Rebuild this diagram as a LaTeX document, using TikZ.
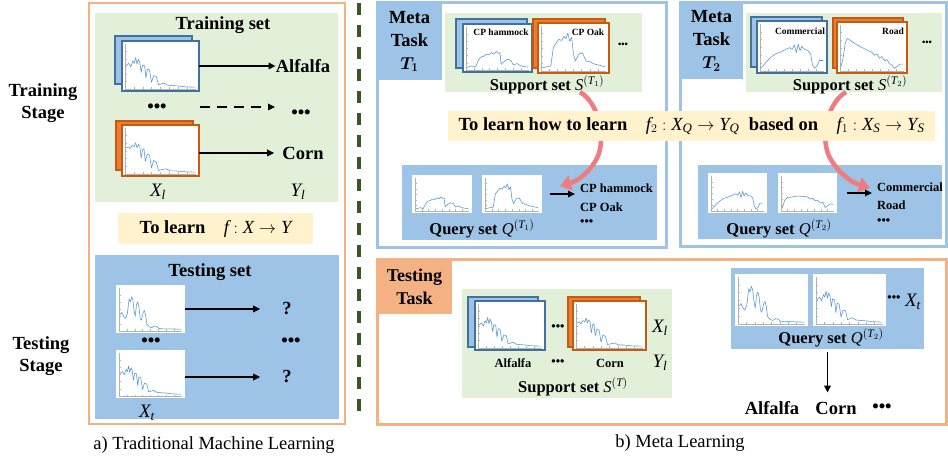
\documentclass[tikz,border=0pt]{standalone}
\usepackage{fontspec}
\setmainfont{Liberation Serif}
\usepackage{bm}
\DeclareSymbolFont{letters}{TU}{\rmdefault}{m}{it}
\SetSymbolFont{letters}{bold}{TU}{\rmdefault}{b}{it}
\usetikzlibrary{arrows.meta,fit}

\definecolor{gfill}{HTML}{E2F0D9}
\definecolor{yfill}{HTML}{FFF2CC}
\definecolor{bfill}{HTML}{9DC3E6}
\definecolor{oline}{HTML}{F4B183}
\definecolor{dblue}{HTML}{41719C}
\definecolor{dorange}{HTML}{C55A11}
\definecolor{morange}{HTML}{ED7D31}
\definecolor{pinkarr}{HTML}{F07C82}
\definecolor{dgreen}{HTML}{385723}
\definecolor{specblue}{HTML}{5B9BD5}

\tikzset{
  lbl/.style={font=\fontsize{18.5}{22}\selectfont\bfseries, inner sep=0pt, align=center},
  setlbl/.style={font=\fontsize{16.5}{19}\selectfont\bfseries, inner sep=0pt},
  smlbl/.style={font=\fontsize{12.5}{15}\selectfont\bfseries, inner sep=0pt},
  tinylbl/.style={font=\fontsize{9.5}{11}\selectfont\bfseries, inner sep=0pt},
  mathlbl/.style={font=\fontsize{19}{20}\selectfont, inner sep=0pt},
  caplbl/.style={font=\fontsize{18.5}{22}\selectfont, inner sep=0pt},
  area/.style={inner sep=0pt, outer sep=0pt},
  arr/.style={line width=1.6pt, -{Triangle[length=7pt,width=6.5pt]}},
  pinkarrow/.style={pinkarr, line width=4.5pt, -{Triangle[length=11pt,width=15pt]}},
  frameplain/.style={fill=white, draw=none, inner sep=0pt, outer sep=0pt},
  frameblue/.style={fill=white, draw=dblue, line width=1.6pt, inner sep=0pt, outer sep=0pt},
  frameorange/.style={fill=white, draw=dorange, line width=1.6pt, inner sep=0pt, outer sep=0pt},
  backblue/.style={fill=bfill, draw=dblue, line width=1.6pt},
  backorange/.style={fill=morange, draw=dorange, line width=1.6pt},
  axisc/.style={black!30, line width=0.5pt},
  curvec/.style={specblue, line width=0.6pt, line join=round},
}

% #1 style, #2 name, #3 cx, #4 cy, #5 w, #6 h, #7 curve command
\newcommand\specimg[7]{%
  \node[#1, minimum width=#5pt, minimum height=#6pt] (#2) at (#3,#4) {};
  \begin{scope}[shift={(#2.south west)}]
    \draw[axisc] (3,-2) -- (3,{-#6+3});
    \draw[axisc] (3,-2) -- ({#5-3},-2);
    \foreach \k in {1,...,5} \draw[axisc] (3,{-2-\k*(#6-5)/6}) -- (4.5,{-2-\k*(#6-5)/6});
    \foreach \k in {1,...,7} \draw[axisc] ({3+\k*(#5-6)/8},-2) -- ({3+\k*(#5-6)/8},-3.5);
    \begin{scope}[shift={(4,-3)}, xscale={(#5-8)/100}, yscale={-(#6-9)/100}]
      #7
    \end{scope}
  \end{scope}}

\newcommand\cAlf{\draw[curvec] plot coordinates {(0,55) (4,60) (7,52) (10,66) (12,60) (14,74) (16,58) (18,70) (20,62) (22,38) (24,56) (27,54) (29,24) (31,46) (34,44) (37,14) (40,30) (44,28) (47,8) (51,10) (55,12) (60,7) (66,6) (75,5) (85,3) (100,2)};}
\newcommand\cCorn{\draw[curvec] plot coordinates {(0,60) (4,62) (6,58) (9,66) (12,63) (14,72) (16,60) (18,68) (20,64) (22,35) (24,55) (26,58) (28,28) (31,45) (34,42) (37,12) (40,30) (44,26) (47,6) (52,8) (58,10) (64,5) (72,5) (84,3) (100,2)};}
\newcommand\cTest{\draw[curvec] plot coordinates {(0,40) (3,45) (6,35) (9,30) (12,42) (15,80) (17,72) (19,85) (21,78) (23,50) (25,35) (27,65) (29,72) (31,60) (33,30) (35,25) (38,45) (40,50) (42,38) (44,15) (48,8) (52,6) (56,10) (60,9) (64,4) (70,3) (80,3) (100,2)};}
\newcommand\cHam{\draw[curvec] plot coordinates {(0,4) (8,8) (14,5) (18,20) (22,30) (28,33) (32,38) (36,36) (40,42) (44,38) (48,45) (51,40) (54,42) (56,12) (60,18) (66,25) (72,22) (76,10) (82,14) (88,8) (94,6) (100,5)};}
\newcommand\cOak{\draw[curvec] plot coordinates {(0,5) (8,8) (14,10) (18,55) (22,65) (27,75) (31,72) (35,82) (38,76) (41,90) (44,70) (47,80) (50,38) (53,22) (58,38) (64,42) (70,22) (76,20) (82,15) (90,12) (100,8)};}
\newcommand\cCom{\draw[curvec] plot coordinates {(0,4) (8,18) (16,30) (24,38) (32,42) (40,48) (46,52) (50,48) (54,58) (57,40) (60,60) (63,45) (66,55) (70,48) (76,45) (80,38) (83,12) (86,4) (90,8) (94,22) (100,22)};}
\newcommand\cRoad{\draw[curvec] plot coordinates {(0,8) (3,25) (7,65) (10,75) (14,72) (20,65) (28,58) (36,52) (44,46) (50,42) (54,35) (58,38) (62,28) (66,32) (70,22) (74,25) (78,15) (82,12) (86,4) (90,8) (95,14) (100,14)};}
\newcommand\cRoadB{\draw[curvec] plot coordinates {(0,5) (5,30) (10,40) (20,42) (30,45) (40,44) (50,42) (55,35) (60,38) (65,30) (70,32) (75,22) (80,25) (85,8) (90,15) (95,20) (100,18)};}

\begin{document}
\begin{tikzpicture}[x=1pt,y=-1pt]
\useasboundingbox (0,0) rectangle (948,462);

% ================= a) Traditional machine learning
\node[fit={(89,3) (345,424)}, area, draw=oline, line width=2.5pt] (panelA) {};
\node[fit={(95,13) (338,202)}, area, fill=gfill] (trainset) {};
\node[lbl] (trainsetlbl) at (223,25) {Training set};

\draw[backblue] (115,36) rectangle (192,84);
\specimg{frameblue}{tr1}{160.5}{66}{77}{50}{\cAlf}
\node[lbl] (alf) at (303,66) {Alfalfa};
\draw[arr] (tr1.east |- alf) -- (alf.west);

\node[lbl] (dl1) at (157,108) {•••};
\node[lbl] (dr1) at (301,114) {•••};
\coordinate (da) at (200,107);
\coordinate (db) at (275,107);
\draw[arr, dash pattern=on 10pt off 7pt] (da) -- (db);

\draw[backorange] (116,121) rectangle (193,170);
\specimg{frameorange}{tr2}{160.5}{150.5}{77}{51}{\cCorn}
\node[lbl] (corn) at (303,153) {Corn};
\draw[arr, shorten >=8pt] (tr2.east |- corn) -- (corn.west);

\node[mathlbl] (xl) at (158,192) {$X_l$};
\node[mathlbl] (yl) at (298,192) {$Y_l$};

\node[fit={(118,213) (313,244)}, area, fill=yfill] (learnA) {};
\node[lbl] (learnAtxt) at (learnA.center) {To learn\quad$f : X \rightarrow Y$};

\node[fit={(95,255) (339,419)}, area, fill=bfill] (testset) {};
\node[lbl] (testsetlbl) at (210,272) {Testing set};
\specimg{frameplain}{te1}{150.5}{309}{69}{48}{\cTest}
\specimg{frameplain}{te2}{150.5}{374}{69}{48}{\cAlf}
\node[lbl] (qm1) at (287,309) {?};
\node[lbl] (qm2) at (287,377) {?};
\draw[arr, shorten >=22pt] (te1.east |- qm1) -- (qm1.west);
\draw[arr, shorten >=22pt] (te2.east |- qm2) -- (qm2.west);
\node[lbl] (dl2) at (151,342) {•••};
\node[lbl] (dr2) at (291,342) {•••};
\node[mathlbl] (xt) at (147,413) {$X_t$};

\node[lbl] (trstage) at (43,103) {Training\\Stage};
\node[lbl] (testage) at (41,356.5) {Testing\\Stage};
\node[caplbl] (capA) at (214,445) {a) Traditional Machine Learning};

% divider
\draw[dgreen, line width=3.5pt, dash pattern=on 12pt off 10pt] (359,3) -- (359,418);

% ================= Meta task T1
\node[fit={(377,3) (666,248)}, area, draw=bfill, line width=3pt, fill=white] (mt1) {};
\node[fit={(377,3) (442,80)}, area, fill=bfill] (mt1lab) {};
\node[lbl, font=\fontsize{18.5}{23}\selectfont\bfseries] (mt1txt) at (mt1lab.center) {Meta\\Task\\$\bm{T_1}$};

\node[fit={(445,13) (642,92)}, area, fill=gfill] (sup1) {};
\draw[backblue] (456,19) rectangle (527,68);
\specimg{frameblue}{s1a}{497.5}{48}{69}{48}{\cHam}
\node[tinylbl] (s1alab) at (501,32) {CP hammock};
\draw[backorange] (533,19) rectangle (605,68);
\specimg{frameorange}{s1b}{573.5}{48}{71}{50}{\cOak}
\node[tinylbl] (s1blab) at (588,32) {CP Oak};
\node[tinylbl] (s1dots) at (623,45) {•••};
\node[setlbl] (sup1lbl) at (547,85) {Support set $S^{(T_1)}$};

\node[fit={(402,165) (657,240)}, area, fill=bfill] (qry1) {};
\specimg{frameplain}{q1a}{442}{194}{60}{38}{\cHam}
\specimg{frameplain}{q1b}{512}{194}{60}{38}{\cOak}
\node[smlbl, anchor=west] (q1l1) at (580,188) {CP hammock};
\node[smlbl, anchor=west] (q1l2) at (580,207) {CP Oak};
\node[smlbl, anchor=west] (q1l3) at (580,223) {•••};
\draw[arr, shorten <=8pt, shorten >=5pt] (q1b.east) -- (q1b.east -| q1l1.west);
\node[setlbl] (qry1lbl) at (482,229) {Query set $Q^{(T_1)}$};

% ================= Meta task T2
\node[fit={(680,3) (946,247)}, area, draw=bfill, line width=3pt, fill=white] (mt2) {};
\node[fit={(680,3) (743,79)}, area, fill=bfill] (mt2lab) {};
\node[lbl, font=\fontsize{18.5}{23}\selectfont\bfseries] (mt2txt) at (mt2lab.center) {Meta\\Task\\$\bm{T_2}$};

\node[fit={(746,13) (942,92)}, area, fill=gfill] (sup2) {};
\draw[backblue] (751,17) rectangle (822,67);
\specimg{frameblue}{s2a}{792}{47}{70}{52}{\cCom}
\node[tinylbl] (s2alab) at (800,31) {Commercial};
\draw[backorange] (833,18) rectangle (903,68);
\specimg{frameorange}{s2b}{872}{47.5}{70}{51}{\cRoad}
\node[tinylbl] (s2blab) at (893,31) {Road};
\node[tinylbl] (s2dots) at (927,43) {•••};
\node[setlbl] (sup2lbl) at (850,85) {Support set $S^{(T_2)}$};

\node[fit={(698,165) (942,239)}, area, fill=bfill] (qry2) {};
\specimg{frameplain}{q2a}{737.5}{193}{59}{40}{\cCom}
\specimg{frameplain}{q2b}{807.5}{193}{59}{40}{\cRoadB}
\node[smlbl, anchor=west] (q2l1) at (877,187) {Commercial};
\node[smlbl, anchor=west] (q2l2) at (877,205) {Road};
\node[smlbl, anchor=west] (q2l3) at (877,222) {•••};
\draw[arr, shorten <=10pt, shorten >=5pt] (q2b.east) -- (q2b.east -| q2l1.west);
\node[setlbl] (qry2lbl) at (779,229) {Query set $Q^{(T_2)}$};

% pink arrows (behind the band)
\coordinate (p1s) at (580,92);
\coordinate (p1e) at (560,186);
\draw[pinkarrow] (p1s) .. controls (600,104) and (606,140) .. (597,158) .. controls (590,172) and (578,181) .. (p1e);
\coordinate (p2s) at (846,92);
\coordinate (p2e) at (870,188);
\draw[pinkarrow] (p2s) .. controls (826,104) and (820,140) .. (830,158) .. controls (837,171) and (850,182) .. (p2e);

\node[fit={(448,111) (935,141)}, area, fill=yfill] (band) {};
\node[lbl] (bandtxt) at (band.center) {To learn how to learn\quad$f_2 : X_Q \rightarrow Y_Q$\enspace based on\quad$f_1 : X_S \rightarrow Y_S$};

% ================= Testing task
\node[fit={(377,260) (946,424)}, area, draw=oline, line width=3pt] (ttask) {};
\node[fit={(377,260) (452,314)}, area, fill=oline] (ttlab) {};
\node[lbl, font=\fontsize{18}{23}\selectfont\bfseries] (tttxt) at (ttlab.center) {Testing\\Task};

\node[fit={(462,289) (672,398)}, area, fill=gfill] (supT) {};
\draw[backblue] (468,297) rectangle (538,347);
\specimg{frameblue}{t1}{510}{325.5}{70}{49}{\cAlf}
\draw[backorange] (568,297) rectangle (640,347);
\specimg{frameorange}{t2}{609.5}{325.5}{73}{49}{\cCorn}
\node[smlbl] (tdots1) at (558,328) {•••};
\node[mathlbl] (txl) at (660,328) {$X_l$};
\node[smlbl] (talf) at (513,363) {Alfalfa};
\node[smlbl] (tdots2) at (558,363) {•••};
\node[smlbl] (tcorn) at (610,363) {Corn};
\node[mathlbl] (tyl) at (660,363) {$Y_l$};
\node[setlbl] (supTlbl) at (573,387) {Support set $S^{(T)}$};

\node[fit={(731,268) (924,349)}, area, fill=bfill] (qryT) {};
\specimg{frameplain}{qt1}{771.5}{300}{73}{52}{\cTest}
\specimg{frameplain}{qt2}{849.5}{300}{73}{52}{\cAlf}
\node[smlbl] (qtdots) at (894,299) {•••};
\node[mathlbl] (qtxt) at (913,302) {$X_t$};
\node[setlbl] (qryTlbl) at (831,338) {Query set $Q^{(T_2)}$};

\node[lbl] (ralf) at (772,408) {Alfalfa};
\node[lbl] (rcorn) at (836,408) {Corn};
\node[lbl] (rdots) at (882,408) {•••};
\draw[arr, shorten <=3pt, shorten >=9pt] (qryT.south) -- (qryT.south |- rcorn.north);

\node[caplbl] (capB) at (680,443) {b) Meta Learning};
\end{tikzpicture}
\end{document}
